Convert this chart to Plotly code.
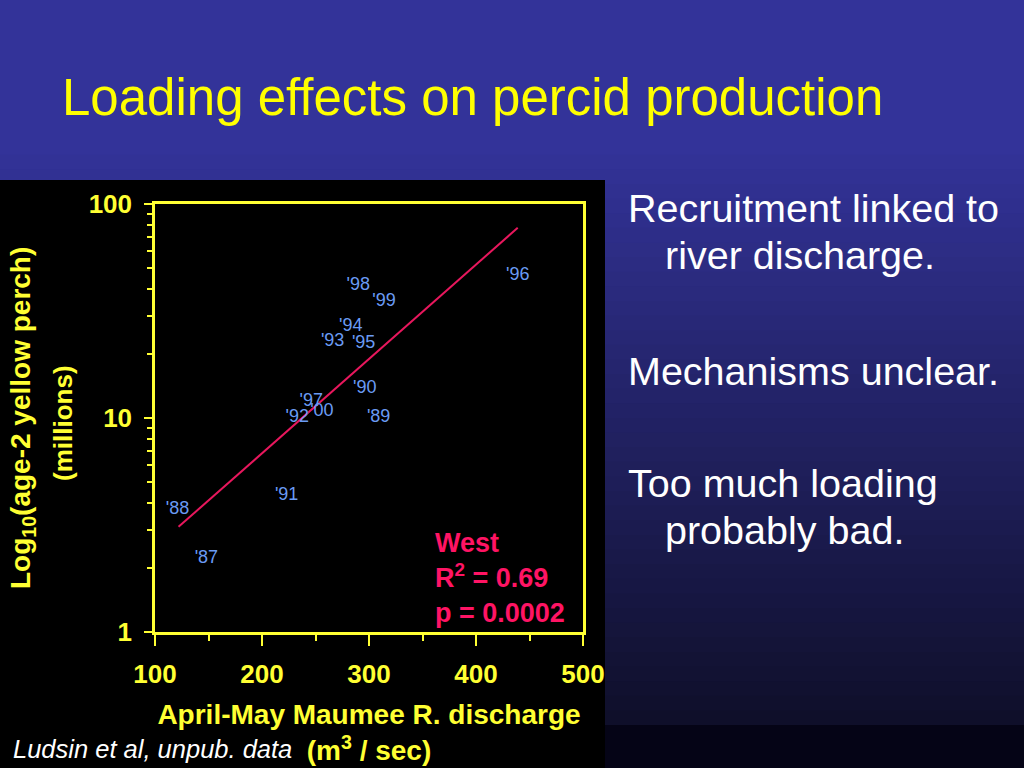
import plotly.graph_objects as go


# Años (etiquetas de cada punto), descarga abril-mayo (m3/s) y percas de 2 años (millones)
ANIOS = ["'87", "'88", "'89", "'90", "'91", "'92", "'93",
         "'94", "'95", "'96", "'97", "'98", "'99", "'00"]
DESCARGA = [148, 121, 309, 296, 223, 233, 266, 283, 295, 439, 246, 290, 314, 256]
PERCAS = [2.21, 3.74, 10.1, 13.7, 4.33, 10.1, 22.9, 26.9, 22.2, 46.1, 11.9, 41.5, 34.9, 10.7]

# Recta de regresión (extremos)
AJUSTE_X = [122, 439]
AJUSTE_Y = [3.10, 77.4]

X_TICKS = [100, 200, 300, 400, 500]
Y_TICKS = [1, 10, 100]
Y_TICK_TEXT = ["1", "10", "100"]

# Geometría del área de trazado en píxeles
W, H = 1024, 768
IZQ, DER, ARR, ABA = 155, 583, 204, 632

AMARILLO = "#FFFF33"
ROSA = "#FF1464"
FUENTE = "Liberation Sans, Arial, sans-serif"


def px(x):
    return (x - IZQ) / (DER - IZQ)


def py(y):
    return (ABA - y) / (ABA - ARR)


def main():

    fig = go.Figure()

    fig.add_trace(
        go.Scatter(
            x=AJUSTE_X,
            y=AJUSTE_Y,
            mode="lines",
            line_color="#E8175D",
            line_width=2,
            hoverinfo="skip",
        )
    )

    fig.add_trace(
        go.Scatter(
            x=DESCARGA,
            y=PERCAS,
            text=ANIOS,
            mode="text",
            textposition="middle center",
            textfont=dict(family=FUENTE, size=18, color="#6A9BF4"),
        )
    )

    # Fondo degradado azul de la diapositiva, hecho con franjas.
    formas = []
    n = 40
    y0, y1 = 140, 725
    c0, c1 = (51, 51, 153), (15, 15, 42)
    for i in range(n):
        t = i / (n - 1)
        color = "rgb({},{},{})".format(
            *[round(a + (b - a) * t) for a, b in zip(c0, c1)])
        top = y0 + (y1 - y0) * i / n
        bot = y0 + (y1 - y0) * (i + 1) / n + 1
        formas.append(dict(
            type="rect", xref="paper", yref="paper", layer="below",
            x0=px(0), x1=px(W), y0=py(top), y1=py(bot),
            line_width=0, fillcolor=color,
        ))
    formas.append(dict(
        type="rect", xref="paper", yref="paper", layer="below",
        x0=px(605), x1=px(W), y0=py(725), y1=py(H),
        line_width=0, fillcolor="rgb(5,4,22)",
    ))
    formas.append(dict(
        type="rect", xref="paper", yref="paper", layer="below",
        x0=px(0), x1=px(605), y0=py(180), y1=py(H),
        line_width=0, fillcolor="#000000",
    ))

    fig.update_xaxes(
        range=[100, 500],
        automargin=False,
        tickvals=X_TICKS,
        ticks="outside",
        ticklen=11,
        tickwidth=2,
        tickcolor=AMARILLO,
        ticklabelstandoff=6,
        tickfont=dict(family=FUENTE, size=26, color=AMARILLO, weight="bold"),
        minor=dict(dtick=50, tick0=100, ticks="outside", ticklen=6,
                   tickwidth=2, tickcolor=AMARILLO, showgrid=False),
        showline=True,
        linecolor=AMARILLO,
        linewidth=2.5,
        mirror=True,
        showgrid=False,
        zeroline=False,
        title=dict(
            text="April-May Maumee R. discharge<br>(m<sup>3</sup> / sec)",
            font=dict(family=FUENTE, size=28, color=AMARILLO, weight="bold"),
            standoff=17,
        ),
    )

    fig.update_yaxes(
        type="log",
        range=[0, 2],
        automargin=False,
        tickvals=Y_TICKS,
        ticktext=Y_TICK_TEXT,
        ticks="outside",
        ticklen=8,
        tickwidth=2,
        tickcolor=AMARILLO,
        ticklabelstandoff=7,
        tickfont=dict(family=FUENTE, size=26, color=AMARILLO, weight="bold"),
        minor=dict(dtick="D1", ticks="outside", ticklen=5,
                   tickwidth=2, tickcolor=AMARILLO, showgrid=False),
        showline=True,
        linecolor=AMARILLO,
        linewidth=2.5,
        mirror=True,
        showgrid=False,
        zeroline=False,
    )

    anotaciones = [
        dict(text="Log<sub>10</sub>(age-2 yellow perch)", x=px(22), y=py(418),
             textangle=-90, font=dict(size=28, color=AMARILLO, weight="bold")),
        dict(text="(millions)", x=px(63), y=py(423),
             textangle=-90, font=dict(size=26, color=AMARILLO, weight="bold")),
        dict(text="West<br>R<sup>2</sup> = 0.69<br>p = 0.0002", x=px(433), y=py(578),
             xanchor="left", align="left",
             font=dict(size=27, color=ROSA, weight="bold")),
        dict(text="<i>Ludsin et al, unpub. data</i>", x=px(11), y=py(749),
             xanchor="left", font=dict(size=25.5, color="#FFFFFF")),
    ]

    texto_derecha = [
        ("Recruitment linked to", 626, 208),
        ("river discharge.", 663, 255),
        ("Mechanisms unclear.", 626, 371),
        ("Too much loading", 626, 483),
        ("probably bad.", 663, 530),
    ]
    for texto, x, y in texto_derecha:
        anotaciones.append(dict(
            text=texto, x=px(x), y=py(y), xanchor="left",
            font=dict(size=39.5, color="#FFFFFF"),
        ))

    for a in anotaciones:
        a.update(xref="paper", yref="paper", showarrow=False)
        a.setdefault("yanchor", "middle")
        a.setdefault("xanchor", "center")
        a["font"].setdefault("family", FUENTE)

    fig.update_layout(
        width=W,
        height=H,
        autosize=False,
        margin=dict(l=IZQ, r=W - DER, t=ARR, b=H - ABA, pad=0),
        paper_bgcolor="rgb(51,51,153)",
        plot_bgcolor="#000000",
        showlegend=False,
        title=dict(
            text="Loading effects on percid production",
            font=dict(family=FUENTE, size=51, color="#FFFF00"),
            xref="container",
            x=62 / W,
            xanchor="left",
            y=1 - 97 / H,
            yanchor="middle",
        ),
        shapes=formas,
        annotations=anotaciones,
    )

    # Quitamos el margen de la página para que la figura llene la ventana.
    fig.write_html(
        "out.html",
        config={"responsive": False, "displayModeBar": False},
        post_script="document.body.style.margin='0';"
                    "document.body.style.overflow='hidden';",
    )


if __name__ == "__main__":

    main()
